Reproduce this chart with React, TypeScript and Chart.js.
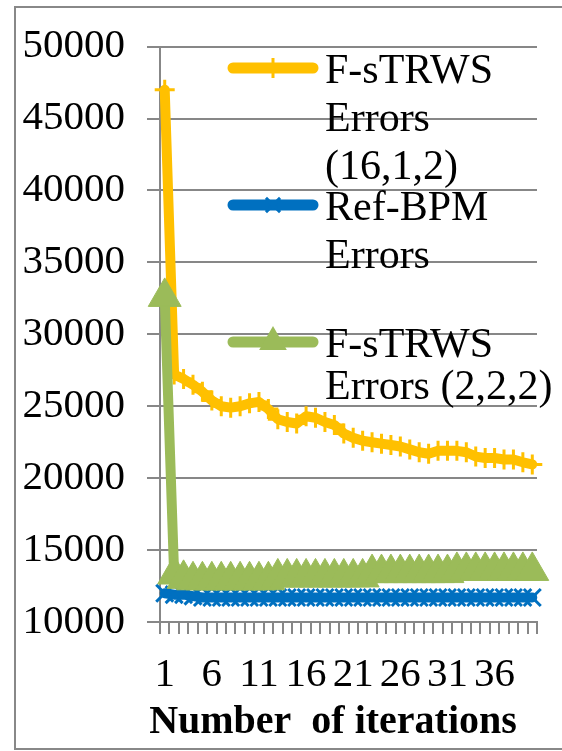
import React, { useEffect, useRef } from "react";
import { Chart, registerables } from "chart.js";

Chart.register(...registerables);

const iterations = [
  "1", "2", "3", "4", "5", "6", "7", "8", "9", "10",
  "11", "12", "13", "14", "15", "16", "17", "18", "19", "20",
  "21", "22", "23", "24", "25", "26", "27", "28", "29", "30",
  "31", "32", "33", "34", "35", "36", "37", "38", "39", "40",
];

const fstrws1612 = [
  47000, 27200, 26900, 26500, 26000, 25400, 25000, 24900, 25000, 25200,
  25300, 24800, 24100, 23900, 23800, 24300, 24200, 23900, 23700, 23100,
  22800, 22600, 22500, 22400, 22300, 22200, 22000, 21800, 21700, 21900,
  21900, 21900, 21800, 21500, 21400, 21400, 21300, 21300, 21100, 20950,
];

const refBpm = [
  12000, 11900, 11900, 11800, 11700, 11700, 11700, 11700, 11700, 11700,
  11700, 11700, 11700, 11700, 11700, 11700, 11700, 11700, 11700, 11700,
  11700, 11700, 11700, 11700, 11700, 11700, 11700, 11700, 11700, 11700,
  11700, 11700, 11700, 11700, 11700, 11700, 11700, 11700, 11700, 11700,
];

const fstrws222 = [
  32600, 13300, 13000, 12900, 12900, 12900, 12900, 12900, 12900, 12900,
  12900, 12900, 13100, 13100, 13100, 13100, 13100, 13100, 13100, 13100,
  13100, 13100, 13400, 13400, 13400, 13400, 13400, 13400, 13400, 13400,
  13400, 13550, 13550, 13550, 13550, 13550, 13550, 13550, 13550, 13550,
];

const seriesNames = ["F-sTRWS Errors (16,1,2)", "Ref-BPM Errors", "F-sTRWS Errors (2,2,2)"];
const legendLines = [
  ["F-sTRWS", "Errors", "(16,1,2)"],
  ["Ref-BPM", "Errors"],
  ["F-sTRWS", "Errors (2,2,2)"],
];
const xTitle = "Number  of iterations";

const YELLOW = "#FFC000";
const BLUE = "#0070C0";
const GREEN = "#9BBB59";
const GRID = "#878787";
const SERIF = '"Liberation Serif", "Times New Roman", serif';

function drawMarker(ctx: CanvasRenderingContext2D, style: string, x: number, y: number, r: number, color: string) {
  ctx.save();
  ctx.strokeStyle = color;
  ctx.fillStyle = color;
  ctx.lineWidth = 3;
  ctx.lineCap = "butt";
  if (style === "cross") {
    ctx.beginPath();
    ctx.moveTo(x, y - r);
    ctx.lineTo(x, y + r);
    ctx.stroke();
  } else if (style === "crossRot") {
    const d = r * Math.SQRT1_2;
    ctx.beginPath();
    ctx.moveTo(x - d, y - d);
    ctx.lineTo(x + d, y + d);
    ctx.moveTo(x + d, y - d);
    ctx.lineTo(x - d, y + d);
    ctx.stroke();
  } else if (style === "triangle") {
    ctx.beginPath();
    ctx.moveTo(x, y - r);
    ctx.lineTo(x + r * Math.sin((2 * Math.PI) / 3), y + r / 2);
    ctx.lineTo(x - r * Math.sin((2 * Math.PI) / 3), y + r / 2);
    ctx.closePath();
    ctx.fill();
  }
  ctx.restore();
}

const inlineLegend = {
  id: "inlineLegend",
  afterDraw(chart: any) {
    const ctx: CanvasRenderingContext2D = chart.ctx;
    ctx.save();
    chart.data.datasets.forEach((ds: any, i: number) => {
      const base = 83 + 137 * i;
      const pitch = i === 2 ? 42 : 48;
      const ly = base - 15;
      ctx.strokeStyle = ds.borderColor;
      ctx.lineWidth = 11;
      ctx.lineCap = "round";
      ctx.beginPath();
      ctx.moveTo(233, ly);
      ctx.lineTo(313, ly);
      ctx.stroke();
      drawMarker(ctx, ds.pointStyle, 273, ly, ds.pointStyle === "triangle" ? 16 : 10, ds.borderColor);
      ctx.fillStyle = "#000";
      ctx.font = `42px ${SERIF}`;
      ctx.textBaseline = "alphabetic";
      ctx.textAlign = "left";
      legendLines[i].forEach((t, k) => {
        ctx.fillText(t, 325, base + k * pitch);
      });
    });
    // axis title
    ctx.fillStyle = "#000";
    ctx.font = `bold 40px ${SERIF}`;
    ctx.textAlign = "center";
    ctx.textBaseline = "alphabetic";
    ctx.fillText(xTitle, 333, 733);
    ctx.restore();
  },
};

export default function App() {
  const ref = useRef<HTMLCanvasElement | null>(null);

  useEffect(() => {
    if (!ref.current) return;
    const common = {
      borderWidth: 10,
      borderCapStyle: "round",
      borderJoinStyle: "round",
      tension: 0,
      pointBorderWidth: 3,
      clip: 30,
    };
    const chart = new Chart(ref.current, {
      type: "line",
      data: {
        labels: iterations,
        datasets: [
          {
            ...common,
            label: seriesNames[0],
            data: fstrws1612,
            borderColor: YELLOW,
            backgroundColor: YELLOW,
            pointBorderColor: YELLOW,
            pointBackgroundColor: YELLOW,
            pointStyle: "cross",
            pointRadius: 10,
            order: 3,
          },
          {
            ...common,
            label: seriesNames[1],
            data: refBpm,
            borderColor: BLUE,
            backgroundColor: BLUE,
            pointBorderColor: BLUE,
            pointBackgroundColor: BLUE,
            pointStyle: "crossRot",
            pointRadius: 12,
            order: 2,
          },
          {
            ...common,
            label: seriesNames[2],
            data: fstrws222,
            borderColor: GREEN,
            backgroundColor: GREEN,
            pointBorderColor: GREEN,
            pointBackgroundColor: GREEN,
            pointStyle: "triangle",
            pointRadius: 19,
            pointBorderWidth: 1,
            order: 1,
          },
        ],
      } as any,
      options: {
        responsive: false,
        animation: false,
        devicePixelRatio: 1,
        layout: { padding: { left: 0, top: 45, right: 25, bottom: 0 } },
        plugins: { legend: { display: false }, tooltip: { enabled: false } },
        scales: {
          x: {
            type: "category",
            offset: true,
            grid: {
              display: true,
              drawOnChartArea: false,
              drawTicks: true,
              tickLength: 12,
              offset: true,
              color: GRID,
              lineWidth: 2,
            },
            border: { display: true, color: GRID, width: 2 },
            ticks: {
              autoSkip: false,
              maxRotation: 0,
              minRotation: 0,
              padding: 17,
              color: "#000",
              font: { family: SERIF, size: 41 },
              callback: (_v: any, i: number) => (i % 5 === 0 ? iterations[i] : ""),
            },
            title: { display: false },
            afterFit: (s: any) => {
              s.height = 129;
            },
          },
          y: {
            min: 10000,
            max: 50000,
            ticks: {
              stepSize: 5000,
              padding: 22,
              color: "#000",
              font: { family: SERIF, size: 41 },
              callback: (v: any) => String(v),
            },
            grid: { color: GRID, lineWidth: 2, tickLength: 13 },
            border: { display: true, color: GRID, width: 2 },
            afterFit: (s: any) => {
              s.width = 160;
            },
          },
        },
      } as any,
      plugins: [inlineLegend],
    });
    return () => chart.destroy();
  }, []);

  return (
    <div style={{ position: "fixed", left: 0, top: 0, width: 562, height: 751, background: "#fff", overflow: "hidden" }}>
      <div
        style={{
          position: "absolute",
          left: 14,
          top: 6,
          width: 560,
          height: 744,
          border: "2px solid #888",
          boxSizing: "border-box",
        }}
      />
      <canvas ref={ref} width={562} height={751} style={{ position: "absolute", left: 0, top: 0 }} />
    </div>
  );
}
